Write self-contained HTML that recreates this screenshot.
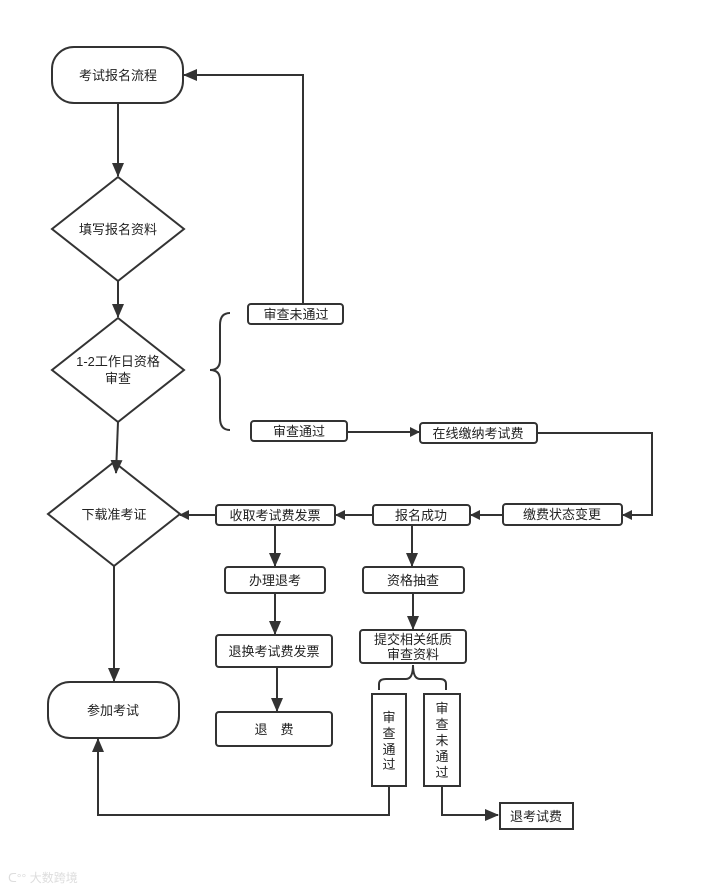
<!DOCTYPE html>
<html><head><meta charset="utf-8"><style>
html,body{margin:0;padding:0;background:#fff;}
svg{display:block;}
text{font-family:"Liberation Sans","Noto Sans CJK SC",sans-serif;font-size:13px;fill:#222;}
</style></head><body>
<svg width="713" height="891" viewBox="0 0 713 891" xmlns="http://www.w3.org/2000/svg">
<defs><marker id="a" markerWidth="10" markerHeight="10" refX="9" refY="5" orient="auto" markerUnits="userSpaceOnUse"><path d="M0,0 L10,5 L0,10 z" fill="#333"/></marker>
<marker id="b" markerWidth="14" markerHeight="12" refX="13" refY="6" orient="auto" markerUnits="userSpaceOnUse"><path d="M0,0 L14,6 L0,12 z" fill="#333"/></marker></defs>
<g fill="none" stroke="#333" stroke-width="2">
<rect x="52" y="47" width="131" height="56" rx="22"/>
<polygon points="118,177 184,229 118,281 52,229" fill="#fff"/>
<polygon points="118,318 184,370 118,422 52,370" fill="#fff"/>
<polygon points="114,462 180,514 114,566 48,514" fill="#fff"/>
<rect x="48" y="682" width="131" height="56" rx="22"/>
<line x1="118" y1="103" x2="118" y2="176" marker-end="url(#b)"/>
<line x1="118" y1="281" x2="118" y2="317" marker-end="url(#b)"/>
<line x1="118" y1="422" x2="116" y2="473" marker-end="url(#b)"/>
<line x1="114" y1="566" x2="114" y2="681" marker-end="url(#b)"/>
<path d="M230,313 Q220,313 220,325 L220,360 Q220,370 210,370 Q220,370 220,380 L220,418 Q220,430 230,430"/>
<rect x="248" y="304" width="95" height="20" rx="3"/>
<path d="M303,304 L303,75 L184,75" marker-end="url(#b)"/>
<rect x="251" y="421" width="96" height="20" rx="3"/>
<line x1="347" y1="432" x2="419" y2="432" marker-end="url(#a)"/>
<rect x="420" y="423" width="117" height="20" rx="3"/>
<path d="M537,433 L652,433 L652,515 L623,515" marker-end="url(#a)"/>
<rect x="503" y="504" width="119" height="21" rx="3"/>
<line x1="503" y1="515" x2="471" y2="515" marker-end="url(#a)"/>
<rect x="373" y="505" width="97" height="20" rx="3"/>
<line x1="373" y1="515" x2="336" y2="515" marker-end="url(#a)"/>
<rect x="216" y="505" width="119" height="20" rx="3"/>
<line x1="216" y1="515" x2="180" y2="515" marker-end="url(#a)"/>
<line x1="275" y1="525" x2="275" y2="566" marker-end="url(#b)"/>
<rect x="225" y="567" width="100" height="26" rx="3"/>
<line x1="275" y1="593" x2="275" y2="634" marker-end="url(#b)"/>
<rect x="216" y="635" width="116" height="32" rx="3"/>
<line x1="277" y1="667" x2="277" y2="711" marker-end="url(#b)"/>
<rect x="216" y="712" width="116" height="34" rx="3"/>
<line x1="412" y1="525" x2="412" y2="566" marker-end="url(#b)"/>
<rect x="363" y="567" width="101" height="26" rx="3"/>
<line x1="413" y1="593" x2="413" y2="629" marker-end="url(#b)"/>
<rect x="360" y="630" width="106" height="33" rx="3"/>
<path d="M379,690 L379,684 Q379,679 386,679 L406,679 Q413,679 413,665 Q413,679 420,679 L440,679 Q446,679 446,684 L446,690"/>
<rect x="372" y="694" width="34" height="92"/>
<rect x="424" y="694" width="36" height="92"/>
<path d="M389,786 L389,815 L98,815 L98,739" marker-end="url(#b)"/>
<path d="M442,786 L442,815 L498,815" marker-end="url(#b)"/>
<rect x="500" y="803" width="73" height="26"/>
</g>
<g text-anchor="middle">
<text x="118" y="80">考试报名流程</text>
<text x="118" y="234">填写报名资料</text>
<text x="118" y="366">1-2工作日资格</text>
<text x="118" y="383">审查</text>
<text x="114" y="519">下载准考证</text>
<text x="113" y="715">参加考试</text>
<text x="296" y="319">审查未通过</text>
<text x="299" y="436">审查通过</text>
<text x="478" y="438">在线缴纳考试费</text>
<text x="562" y="519">缴费状态变更</text>
<text x="421" y="520">报名成功</text>
<text x="275" y="520">收取考试费发票</text>
<text x="275" y="585">办理退考</text>
<text x="413" y="585">资格抽查</text>
<text x="274" y="656">退换考试费发票</text>
<text x="274" y="734">退　费</text>
<text x="413" y="644">提交相关纸质</text>
<text x="413" y="659">审查资料</text>
<text x="389" y="722">审</text>
<text x="389" y="738">查</text>
<text x="389" y="754">通</text>
<text x="389" y="769">过</text>
<text x="442" y="713">审</text>
<text x="442" y="729">查</text>
<text x="442" y="745">未</text>
<text x="442" y="761">通</text>
<text x="442" y="777">过</text>
<text x="536" y="821">退考试费</text>
</g>
<text x="8" y="882" style="fill:#ddd;font-size:12px">ᑕ°° 大数跨境</text>
</svg>
</body></html>
